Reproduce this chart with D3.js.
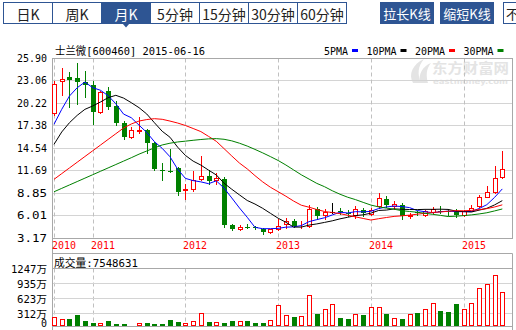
<!DOCTYPE html>
<html><head><meta charset="utf-8">
<script src="https://cdn.jsdelivr.net/npm/d3@7"></script>
<style>body{margin:0;background:#fff;overflow:hidden}svg{display:block}</style>
</head><body>
<svg id="c" width="516" height="330"></svg>
<script>
// ---------- DATA ----------
const months = ["2010-08","2010-09","2010-10","2010-11","2010-12",
"2011-01","2011-02","2011-03","2011-04","2011-05","2011-06","2011-07","2011-08","2011-09","2011-10","2011-11","2011-12",
"2012-01","2012-02","2012-03","2012-04","2012-05","2012-06","2012-07","2012-08","2012-09","2012-10","2012-11","2012-12",
"2013-01","2013-02","2013-03","2013-04","2013-05","2013-06","2013-07","2013-08","2013-09","2013-10","2013-11","2013-12",
"2014-01","2014-02","2014-03","2014-04","2014-05","2014-06","2014-07","2014-08","2014-09","2014-10","2014-11","2014-12",
"2015-01","2015-02","2015-03","2015-04","2015-05","2015-06"];
const opens = [18.95,23.00,23.46,23.33,22.83,22.45,19.04,21.69,19.80,17.61,15.92,16.70,16.77,15.13,11.75,11.63,12.01,
9.19,9.28,10.54,10.96,10.46,10.64,4.75,4.23,4.55,4.48,4.31,3.89,4.21,4.84,5.34,4.60,4.67,6.76,6.00,6.40,6.50,6.33,6.04,6.71,
6.16,7.13,8.09,7.13,7.30,5.95,6.42,6.07,6.42,6.58,6.50,6.58,6.07,6.58,7.17,8.35,8.90,10.87];
const highs = [22.96,24.66,24.09,25.19,24.22,23.02,21.70,22.26,20.43,17.90,17.19,18.41,16.86,15.25,12.54,14.33,12.13,
9.89,11.53,13.49,11.72,11.28,10.83,4.86,4.77,4.86,4.65,4.43,4.31,5.59,5.62,5.53,5.34,7.30,7.01,6.83,7.60,6.88,6.67,7.17,6.88,
6.88,8.81,8.40,7.84,7.51,6.29,6.58,6.67,7.05,7.17,6.83,6.83,6.67,7.24,8.56,9.65,12.18,14.12];
const lows = [18.62,21.13,19.71,20.05,20.93,17.49,18.95,19.46,17.36,15.67,15.76,16.43,13.83,11.78,10.46,11.45,8.52,
8.00,9.07,10.46,9.95,9.91,4.56,4.14,4.14,4.36,4.23,3.60,3.73,4.08,4.39,4.48,4.39,4.56,5.49,5.57,6.35,6.16,5.95,5.66,5.95,
6.04,6.92,7.01,6.83,5.57,5.66,6.07,5.95,6.29,6.29,6.07,5.82,5.95,6.50,7.05,8.27,8.81,10.77];
const closes = [22.54,23.15,23.12,22.87,22.41,19.04,21.53,19.71,17.69,15.92,16.73,16.83,15.13,11.84,11.70,11.50,8.94,
9.32,10.46,10.90,10.33,10.75,4.75,4.23,4.52,4.50,4.42,3.89,4.23,4.71,5.24,4.65,4.67,6.76,5.95,6.42,6.40,6.42,6.25,6.79,6.29,
6.71,8.18,7.26,7.42,5.91,6.07,6.33,6.50,6.83,6.50,6.42,6.07,6.50,6.98,8.27,8.90,10.67,11.81];
// volume, unit 万
const volumes = [229,187,193,276,152,116,104,152,89,89,69,104,110,89,89,172,137,104,152,312,131,125,110,152,158,152,116,116,172,
484,276,241,256,692,297,395,505,208,187,291,276,436,449,297,220,187,291,312,395,520,360,332,505,395,520,831,921,1108,755];
const ma5 = [17.49,19.38,21.06,22.11,22.82,22.12,21.79,21.11,20.08,18.78,18.32,17.38,16.46,15.29,14.45,13.40,11.82,
10.66,10.38,10.22,9.99,10.35,9.44,8.19,6.92,5.75,4.48,4.31,4.31,4.35,4.50,4.54,4.70,5.20,5.45,5.69,6.04,6.39,6.29,6.46,6.43,
6.50,6.85,7.05,7.17,7.10,6.97,6.60,6.45,6.33,6.45,6.52,6.46,6.46,6.49,6.85,7.34,8.26,9.33];
const ma10 = [14.96,16.52,17.69,18.62,19.38,19.80,20.30,20.85,21.15,20.80,20.22,19.59,18.79,17.68,16.61,15.86,14.60,
13.56,12.84,12.34,11.70,11.09,10.05,9.29,8.57,7.87,7.42,6.88,6.25,5.63,5.12,4.51,4.51,4.76,4.91,5.10,5.30,5.55,5.75,
5.96,6.06,6.27,6.61,6.66,6.81,6.76,6.73,6.72,6.75,6.75,6.77,6.74,6.53,6.46,6.41,6.65,6.88,7.31,7.85];
const ma20 = [10.54,11.26,11.98,12.70,13.42,14.14,14.86,15.58,16.30,17.02,17.53,17.90,18.09,18.20,18.12,17.90,17.65,
17.34,16.96,16.57,15.96,15.34,14.42,13.49,12.59,11.86,11.01,10.22,9.54,8.98,8.41,7.80,7.27,7.02,6.73,6.48,6.35,6.21,6.00,
5.80,5.60,5.40,5.57,5.72,5.86,5.93,6.02,6.14,6.25,6.36,6.42,6.51,6.58,6.57,6.62,6.71,6.84,7.05,7.32];
const ma30 = [8.97,9.40,9.83,10.26,10.69,11.12,11.55,11.98,12.41,12.84,13.27,13.72,14.12,14.52,14.88,15.10,15.26,
15.36,15.47,15.57,15.65,15.68,15.60,15.40,15.10,14.74,14.32,13.88,13.41,12.92,12.35,11.73,11.11,10.57,10.03,9.61,9.10,
8.66,8.28,7.98,7.63,7.29,7.06,6.91,6.77,6.58,6.48,6.38,6.25,6.12,5.99,5.84,5.89,5.96,6.05,6.17,6.32,6.55,6.80];
const priceTicks = [3.17,6.01,8.85,11.69,14.54,17.38,20.22,23.06,25.90];
const volTicks = [0,312,623,935,1247];
const volTickLabels = ["0","312万","623万","935万","1247万"];
const tabs = ["日K","周K","月K","5分钟","15分钟","30分钟","60分钟"];
const selectedTab = "月K";
const buttons = ["拉长K线","缩短K线"];
const cutButton = "不";
const legendNames = ["5PMA","10PMA","20PMA","30PMA"];
const title = "士兰微[600460] 2015-06-16";
const volTitle = "成交量:7548631";

// ---------- STYLE ----------
const RED = "#ff0000", GREEN = "#008000", BLUE = "#2e5593";
const maColors = ["#0000ff","#000000","#ff0000","#008000"];
const mono = '"DejaVu Sans Mono","Noto Sans CJK SC",monospace';
const cjk = '"Noto Sans CJK SC","DejaVu Sans",sans-serif';

const svg = d3.select("#c");
const L = 52.5, R = 512.5;

const x = d3.scalePoint().domain(months).range([54, 502.3]);
const y = d3.scaleLinear().domain([3.17, 25.90]).range([237.7, 57.7]);
const vy = d3.scaleLinear().domain([0, 1247]).range([328.3, 268.3]);
const px = m => Math.round(x(m)) + 0.5;
const py = v => Math.round(y(v)) + 0.5;
const pvy = v => Math.round(vy(v)) + 0.5;

function tw(s){ let w = 0; for (const ch of s) w += ch.charCodeAt(0) > 255 ? 12 : 6; return w; }
function mtext(g, s, xx, yy, anchor, fill){
  return g.append("text").attr("x", xx).attr("y", yy)
    .attr("text-anchor", anchor || "start").attr("dominant-baseline", "central")
    .attr("font-family", mono).attr("font-size", 11).attr("fill", fill || "#000")
    .attr("textLength", tw(s)).attr("lengthAdjust", "spacingAndGlyphs").text(s);
}

// ---------- TABS ----------
const tabG = svg.append("g");
const tabW = 49, tabX0 = 3.5;
tabs.forEach((t, i) => {
  const sel = t === selectedTab;
  tabG.append("rect").attr("x", tabX0 + i*tabW).attr("y", 2.5).attr("width", tabW).attr("height", 21)
    .attr("fill", sel ? BLUE : "#fff").attr("stroke", BLUE).attr("stroke-width", 1);
  tabG.append("text").attr("x", tabX0 + i*tabW + tabW/2).attr("y", 13.5)
    .attr("text-anchor", "middle").attr("dominant-baseline", "central")
    .attr("font-family", cjk).attr("font-size", 14).attr("fill", sel ? "#fff" : "#222").text(t);
  if (sel) {
    const cx = tabX0 + i*tabW + tabW/2;
    tabG.append("path").attr("d", `M${cx-3.5},23.5L${cx+3.5},23.5L${cx},27.5Z`).attr("fill", BLUE);
  }
});
buttons.forEach((b, i) => {
  const bx = 380 + i*60;
  tabG.append("rect").attr("x", bx).attr("y", 2).attr("width", 54).attr("height", 22).attr("fill", BLUE);
  tabG.append("text").attr("x", bx + 27).attr("y", 13.5).attr("text-anchor", "middle")
    .attr("dominant-baseline", "central").attr("font-family", cjk).attr("font-size", 13)
    .attr("fill", "#fff").text(b);
});
tabG.append("rect").attr("x", 503.5).attr("y", 2.5).attr("width", 40).attr("height", 21)
  .attr("fill", "#fff").attr("stroke", BLUE);
tabG.append("text").attr("x", 506).attr("y", 13.5).attr("dominant-baseline", "central")
  .attr("font-family", cjk).attr("font-size", 13).attr("fill", "#222").text(cutButton);

// ---------- WATERMARK ----------
const wm = svg.append("g").attr("fill", "#e4e4e4");
wm.append("path").attr("d", "M413,83 C408,74 413,64 424,59 C418,66 417,74 421,83 Z");
wm.append("path").attr("d", "M420,83 C418,74 423,66 431,63 C426,69 426,76 428,83 Z");
wm.append("text").attr("x", 432).attr("y", 73).attr("font-family", cjk).attr("font-weight", "bold")
  .attr("font-size", 13.5).attr("textLength", 77).attr("lengthAdjust", "spacingAndGlyphs").text("东方财富网");
wm.append("text").attr("x", 433).attr("y", 84).attr("font-family", '"DejaVu Sans",sans-serif').attr("font-weight", "bold")
  .attr("font-size", 7.5).attr("textLength", 75).attr("lengthAdjust", "spacingAndGlyphs").text("eastmoney.com");

// ---------- MAIN GRID ----------
const grid = svg.append("g");
grid.selectAll("line.h").data(priceTicks.slice(1, -1)).join("line")
  .attr("x1", L).attr("x2", R).attr("y1", d => py(d)).attr("y2", d => py(d))
  .attr("stroke", "#d4d4d4");
const yearIdx = months.map((m, i) => i).filter(i => i === 0 || months[i].endsWith("-01"));
grid.selectAll("line.v").data(yearIdx).join("line")
  .attr("x1", i => px(months[i])).attr("x2", i => px(months[i]))
  .attr("y1", py(25.90)).attr("y2", py(3.17))
  .attr("stroke", "#c0c0c0").attr("stroke-dasharray", "4,3");
grid.selectAll("line.vv").data(yearIdx).join("line")
  .attr("x1", i => px(months[i])).attr("x2", i => px(months[i]))
  .attr("y1", pvy(1247)).attr("y2", 326)
  .attr("stroke", "#c0c0c0").attr("stroke-dasharray", "4,3");
grid.selectAll("line.vh").data(volTicks.slice(1, -1)).join("line")
  .attr("x1", L).attr("x2", R).attr("y1", d => pvy(d)).attr("y2", d => pvy(d))
  .attr("stroke", "#d4d4d4");

// frames
const fr = svg.append("g").attr("stroke", "#a8a8a8").attr("fill", "none");
fr.append("rect").attr("x", L).attr("y", py(25.90)).attr("width", R - L).attr("height", py(3.17) - py(25.90));
fr.append("line").attr("x1", L).attr("x2", L).attr("y1", py(3.17)).attr("y2", 330);
fr.append("line").attr("x1", L).attr("x2", R).attr("y1", 253.5).attr("y2", 253.5);
fr.append("line").attr("x1", L).attr("x2", R).attr("y1", pvy(1247)).attr("y2", pvy(1247));
fr.append("line").attr("x1", L).attr("x2", R).attr("y1", 326.5).attr("y2", 326.5);
fr.append("line").attr("x1", R).attr("x2", R).attr("y1", 253.5).attr("y2", 330);

// ---------- AXES LABELS ----------
const yAx = svg.append("g").attr("transform", "translate(47,0)")
  .call(d3.axisLeft(y).tickValues(priceTicks).tickFormat(d3.format(".2f")).tickSize(0).tickPadding(0));
yAx.select(".domain").remove();
yAx.selectAll(".tick").attr("transform", d => `translate(0,${py(d)})`);
yAx.selectAll("text").attr("font-family", mono).attr("font-size", 11).attr("fill", "#000")
  .attr("dy", null).attr("dominant-baseline", "central").attr("x", 0)
  .attr("textLength", 30).attr("lengthAdjust", "spacingAndGlyphs");

const vAx = svg.append("g").attr("transform", "translate(47,0)")
  .call(d3.axisLeft(vy).tickValues(volTicks).tickFormat((d, i) => volTickLabels[i]).tickSize(0).tickPadding(0));
vAx.select(".domain").remove();
vAx.selectAll(".tick").attr("transform", d => `translate(0,${d === 0 ? 323 : pvy(d)})`);
vAx.selectAll("text").attr("font-family", mono).attr("font-size", 10.5).attr("fill", "#000")
  .attr("dy", null).attr("dominant-baseline", "central").attr("x", 0)
  .each(function(d, i){ d3.select(this).attr("textLength", tw(volTickLabels[i])).attr("lengthAdjust", "spacingAndGlyphs"); });

const xAx = svg.append("g").attr("transform", "translate(0,245)")
  .call(d3.axisBottom(x).tickValues(yearIdx.map(i => months[i])).tickFormat(m => m.slice(0, 4)).tickSize(0).tickPadding(0));
xAx.select(".domain").remove();
xAx.selectAll(".tick").attr("transform", m => `translate(${px(m) - 2.5},0)`);
xAx.selectAll("text").attr("font-family", mono).attr("font-size", 11).attr("fill", RED)
  .attr("text-anchor", "start").attr("dy", null).attr("y", 0).attr("dominant-baseline", "central")
  .attr("textLength", 24).attr("lengthAdjust", "spacingAndGlyphs");

// titles
mtext(svg, title, 55, 51, "start");
mtext(svg, volTitle, 54, 263.5, "start");

// legend
let lx = 324;
legendNames.forEach((n, i) => {
  mtext(svg, n, lx, 51, "start");
  lx += tw(n) + 4;
  svg.append("rect").attr("x", lx).attr("y", 49).attr("width", 6).attr("height", 3).attr("fill", maColors[i]);
  lx += 6 + 8.5;
});

// ---------- CANDLES ----------
const data = months.map((m, i) => ({m, o: opens[i], h: highs[i], l: lows[i], c: closes[i], v: volumes[i]}));
const colorOf = d => d.c > d.o ? RED : d.c < d.o ? GREEN : "#000";
const cg = svg.append("g");
cg.selectAll("line.w").data(data).join("line")
  .attr("x1", d => px(d.m)).attr("x2", d => px(d.m))
  .attr("y1", d => Math.round(y(d.h))).attr("y2", d => Math.round(y(d.l)) + 1)
  .attr("stroke", colorOf);
cg.selectAll("rect.b").data(data).join("rect")
  .each(function(d){
    const s = d3.select(this);
    const yo = Math.round(y(d.o)), yc = Math.round(y(d.c));
    if (d.c > d.o) {
      s.attr("x", px(d.m) - 2).attr("width", 4).attr("y", yc + 0.5).attr("height", Math.max(0, yo - yc))
        .attr("fill", "#fff").attr("stroke", RED);
    } else if (d.c < d.o) {
      s.attr("x", px(d.m) - 2.5).attr("width", 5).attr("y", yo).attr("height", Math.max(1, yc - yo))
        .attr("fill", GREEN);
    } else {
      s.attr("x", px(d.m) - 2.5).attr("width", 5).attr("y", yo).attr("height", 1).attr("fill", "#000");
    }
  });

// ---------- MA LINES ----------
const mg = svg.append("g").attr("fill", "none").attr("stroke-width", 1);
[ma5, ma10, ma20, ma30].forEach((arr, k) => {
  const line = d3.line().x((d, i) => x(months[i])).y(d => y(d));
  mg.append("path").attr("d", line(arr)).attr("stroke", maColors[k]);
});

// ---------- VOLUME ----------
const vg = svg.append("g");
vg.selectAll("rect").data(data).join("rect")
  .each(function(d){
    const s = d3.select(this);
    const top = Math.round(vy(d.v));
    if (d.c >= d.o) {
      s.attr("x", px(d.m) - 2).attr("width", 4).attr("y", top + 0.5).attr("height", 325.5 - (top + 0.5))
        .attr("fill", "#fff").attr("stroke", RED);
    } else {
      s.attr("x", px(d.m) - 2.5).attr("width", 5).attr("y", top).attr("height", 326 - top).attr("fill", GREEN);
    }
  });
</script>
</body></html>
